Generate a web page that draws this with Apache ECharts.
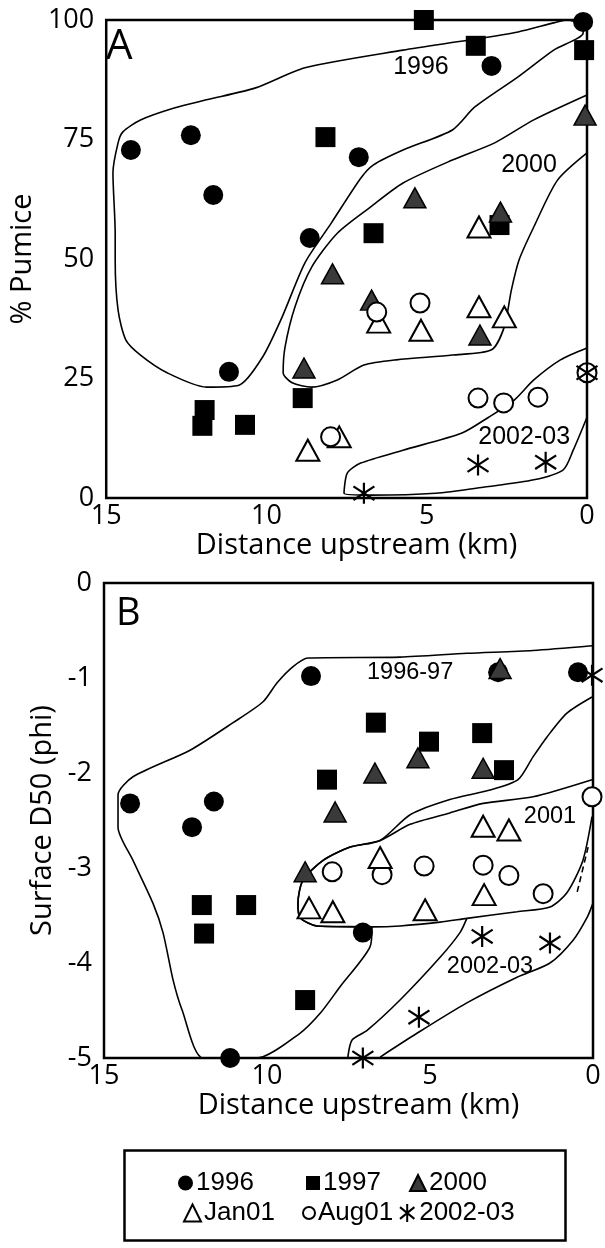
<!DOCTYPE html>
<html><head><meta charset="utf-8">
<script src="https://cdn.jsdelivr.net/npm/echarts@6/dist/echarts.min.js"></script>
<style>html,body{margin:0;padding:0;background:#fff}#c{width:605px;height:1248px}</style>
</head><body><div id="c"></div>
<script>
// ---------- tick values ----------
const xTicksKm = [0, 5, 10, 15];
const yTicksA = [0, 25, 50, 75, 100];
const yTicksB = [-5, -4, -3, -2, -1, 0];

// ---------- Panel A: % pumice vs distance upstream (km) ----------
const a1996 = [[14.23,72.8],[12.36,75.9],[11.66,63.4],[7.12,71.3],[8.65,54.4],[11.17,26.4],[2.98,90.4],[0.12,99.6]];
const a1997 = [[5.09,100],[3.47,94.6],[0.09,93.7],[8.16,75.5],[6.66,55.4],[2.73,57.1],[11.93,18.4],[12.0,15.1],[10.67,15.3],[8.87,20.9]];
const a2000 = [[5.37,62.8],[2.70,59.8],[0.06,80.1],[7.94,46.9],[6.72,41.4],[8.83,27.2],[3.34,34.1]];
const aJan01 = [[6.50,36.8],[5.18,35.1],[8.71,10.0],[7.73,12.8],[3.37,40.0],[2.58,37.9],[3.37,56.7]];
const aAug01 = [[6.56,38.9],[5.21,40.8],[8.0,12.8],[3.40,20.9],[2.6,19.9],[1.53,21.1],[0,26.2]];
const a2002 = [[6.96,1.0],[3.40,6.9],[1.29,7.5],[0,26.2]];

// envelopes (outline vertices, km / %)
const envA1996 = [[0.12,99],[0.61,100],[1.04,99.4],[2.15,97.5],[3.68,95.8],[5.74,93.7],[8.80,90.0],[10.34,85.8],[11.87,83.3],[12.88,81.6],[13.93,79.1],[14.48,76.6],[14.63,74.3],[14.79,68.0],[14.72,55.4],[14.72,49.8],[14.63,39.3],[14.39,33.1],[13.93,29.9],[13.10,26.2],[11.87,23.2],[10.86,23.6],[10.12,29.5],[9.51,37.9],[8.80,49.2],[7.98,57.5],[7.06,66.9],[6.66,69.7],[5.74,72.8],[4.20,77.0],[3.50,81.8],[2.15,88.1],[1.04,93.7],[0.12,97.3]];
const envA2000 = [[0,84.3],[1.66,79.1],[2.88,74.3],[4.20,70.7],[5.74,65.9],[6.75,60.9],[7.79,55.4],[8.59,48.3],[9.11,40.0],[9.42,31.6],[9.48,26.2],[9.20,24.1],[8.59,23.2],[7.79,24.7],[6.96,27.8],[5.95,28.9],[4.20,29.9],[2.98,31.0],[2.58,35.8],[2.36,43.5],[2.12,49.8],[1.66,56.7],[0.92,66.5],[0,72.2]];
const envA2002 = [[0,31.4],[0.83,28.9],[1.66,24.7],[2.27,20.5],[3.07,16.9],[3.90,13.6],[5.74,10.0],[7.06,7.3],[7.48,5.2],[7.58,1.0],[6.75,0.6],[4.72,1.0],[3.19,2.3],[1.66,3.8],[0.74,5.9],[0.43,10.0],[0,16.9]];
const labelsA = [['1996',5.18,90.2],['2000',1.81,69.7],['2002-03',1.96,12.8]];

// ---------- Panel B: surface D50 (phi) vs distance upstream (km) ----------
const b1996 = [[14.2,-2.32],[11.63,-2.30],[12.3,-2.57],[11.13,-5.0],[8.65,-0.98],[7.06,-3.68],[2.91,-0.94],[0.46,-0.94]];
const b1997 = [[12.0,-3.39],[10.64,-3.39],[11.93,-3.69],[8.83,-4.39],[6.66,-1.47],[5.03,-1.67],[8.16,-2.07],[3.40,-1.58],[2.73,-1.97]];
const b2000 = [[6.69,-2.0],[5.37,-1.84],[7.91,-2.41],[8.83,-3.04],[3.37,-1.95],[2.85,-0.9]];
const bJan01 = [[8.71,-3.42],[7.98,-3.46],[6.53,-2.89],[5.15,-3.44],[3.37,-2.56],[2.58,-2.6],[3.34,-3.28]];
const bAug01 = [[8.0,-3.04],[6.47,-3.07],[5.18,-2.98],[3.37,-2.97],[2.58,-3.08],[1.53,-3.27],[0.03,-2.25]];
const b2002 = [[7.06,-5.0],[5.34,-4.57],[3.40,-3.72],[1.32,-3.79],[0.03,-0.97]];

const envB1996 = [[0.03,-0.66],[1.84,-0.71],[3.87,-0.74],[5.92,-0.78],[8.74,-0.79],[9.20,-0.88],[9.69,-1.05],[10.12,-1.25],[11.04,-1.47],[12.36,-1.76],[14.11,-2.04],[14.57,-2.23],[14.57,-2.57],[14.11,-2.92],[13.50,-3.37],[13.19,-3.68],[12.88,-4.18],[12.61,-4.49],[11.96,-5.0],[10.31,-5.0],[8.99,-4.74],[8.37,-4.53],[7.76,-4.25],[6.84,-3.83],[6.78,-3.62],[8.47,-3.61],[8.99,-3.52],[9.05,-3.37],[8.90,-3.13],[8.28,-2.92],[7.45,-2.78],[6.53,-2.71],[5.61,-2.44],[4.39,-2.28],[3.16,-2.18],[2.30,-2.07],[1.84,-1.83],[1.41,-1.62],[0.80,-1.37],[0.03,-1.2]];
const envB2001 = [[0.03,-2.07],[1.84,-2.25],[3.37,-2.32],[4.39,-2.42],[5.61,-2.54],[6.53,-2.71],[7.45,-2.78],[8.28,-2.92],[8.90,-3.13],[9.05,-3.37],[8.99,-3.52],[8.47,-3.61],[6.78,-3.62],[5.92,-3.61],[4.69,-3.57],[3.87,-3.53],[2.33,-3.46],[1.32,-3.41],[0.80,-3.26],[0.31,-2.92],[0.03,-2.46]];
const envB2002 = [[3.87,-3.53],[4.08,-3.68],[4.69,-3.94],[5.92,-4.39],[6.93,-4.71],[7.39,-4.81],[7.52,-4.99]];
const envB2002low = [[6.53,-4.99],[5.40,-4.74],[3.87,-4.42],[2.33,-4.15],[1.32,-4.0],[0.61,-3.76],[0.18,-3.52],[0,-3.37]];
const envB2002dash = [[0.15,-2.78],[0.49,-3.26]];
const labelsB = [['1996-97',5.61,-0.94],['2001',1.32,-2.46],['2002-03',3.16,-4.04]];

// ---------- styling ----------
const BLACK = '#000';
const STAR = 'path://M10 0 L10 20 M2 3.5 L18 16.5 M2 16.5 L18 3.5';
const groups = [
  {name:'1996', A:a1996, B:b1996, symbol:'circle', size:20, color:BLACK, border:BLACK, bw:0, leg:15},
  {name:'1997', A:a1997, B:b1997, symbol:'rect', size:20, color:BLACK, border:BLACK, bw:0, leg:14},
  {name:'2000', A:a2000, B:b2000, symbol:'triangle', size:[22,20], color:'#3a3a3a', border:BLACK, bw:1.5, leg:16},
  {name:'Jan01', A:aJan01, B:bJan01, symbol:'triangle', size:[23,21], color:'#fff', border:BLACK, bw:2, leg:17},
  {name:'Aug01', A:aAug01, B:bAug01, symbol:'circle', size:19, color:'#fff', border:BLACK, bw:2, leg:12},
  {name:'2002-03', A:a2002, B:b2002, symbol:STAR, size:21, color:'rgba(0,0,0,0)', border:BLACK, bw:2.2, leg:18}
];

const series = [];
function envLine(data, gi, dashed) {
  return {type:'line', xAxisIndex:gi, yAxisIndex:gi, data:data, symbol:'none', smooth:0.25, clip:false,
    silent:true, lineStyle:{color:BLACK, width:1.6, type: dashed ? [6,4] : 'solid'}, z:1};
}
series.push(envLine(envA1996.concat([envA1996[0]]), 0));
series.push(envLine(envA2000, 0));
series.push(envLine(envA2002, 0));
series.push(envLine(envB1996, 1));
series.push(envLine(envB2001, 1));
series.push(envLine(envB2002, 1));
series.push(envLine(envB2002low, 1));
series.push(envLine(envB2002dash, 1, true));

groups.forEach((g, i) => {
  ['A','B'].forEach((p, gi) => {
    let z = 3 + i;
    if (g.name === 'Aug01' && p === 'B') z = 2;
    series.push({type:'scatter', name:g.name, xAxisIndex:gi, yAxisIndex:gi, data:g[p], clip:false,
      symbol:g.symbol, symbolSize:g.size, z:z,
      itemStyle:{color:g.color, borderColor:g.border, borderWidth:g.bw, opacity:1}});
  });
});

function textSeries(labels, gi, fs) {
  return {type:'scatter', xAxisIndex:gi, yAxisIndex:gi, symbolSize:1, silent:true, clip:false, z:10,
    itemStyle:{color:'rgba(0,0,0,0)'},
    data: labels.map(l => ({name:l[0], value:[l[1], l[2]]})),
    label:{show:true, position:'inside', formatter:'{b}', color:BLACK, textBorderWidth:0, opacity:1,
      fontSize:fs, fontFamily:'Liberation Sans'}};
}
series.push(textSeries(labelsA, 0, 25));
series.push(textSeries(labelsB, 1, 23.5));

const tickFont = {color:BLACK, fontSize:27, fontFamily:'Open Sans'};
const nameFont = {color:BLACK, fontSize:29, fontFamily:'Open Sans'};

function xAxis(gi) {
  return {type:'value', gridIndex:gi, inverse:true, min:xTicksKm[0], max:xTicksKm[xTicksKm.length-1], interval:5,
    name:'Distance upstream (km)', nameLocation:'middle', nameGap:30,
    nameTextStyle:Object.assign({padding:[0,0,0,20]}, nameFont),
    axisLine:{show:false}, axisTick:{show:false}, splitLine:{show:false},
    axisLabel:Object.assign({margin:5}, tickFont)};
}

const legendPos = [
  ['1996', 178, 1170], ['1997', 306, 1170], ['2000', 409, 1170],
  ['Jan01', 183, 1200], ['Aug01', 302, 1200], ['2002-03', 399, 1200]
];
const legends = legendPos.map(lp => {
  const g = groups.find(x => x.name === lp[0]);
  return {data:[lp[0]], left:lp[1], top:lp[2], padding:0, itemGap:0, selectedMode:false,
    itemWidth:g.leg, itemHeight:g.leg,
    textStyle:{color:BLACK, fontSize:26, fontFamily:'Liberation Sans', padding:[0,0,0,-2]}};
});

const option = {
  animation:false,
  backgroundColor:'#fff',
  title:[
    {text:'A', left:106, top:26, padding:0, textStyle:{fontSize:42, fontWeight:'normal', fontFamily:'Open Sans', color:BLACK}},
    {text:'B', left:116, top:595, padding:0, textStyle:{fontSize:38, fontWeight:'normal', fontFamily:'Open Sans', color:BLACK}}
  ],
  grid:[
    {left:98, top:20, width:489, height:478, show:true, borderColor:BLACK, borderWidth:2.5, backgroundColor:'rgba(0,0,0,0)'},
    {left:104, top:583, width:489, height:475, show:true, borderColor:BLACK, borderWidth:2.5, backgroundColor:'rgba(0,0,0,0)'}
  ],
  xAxis:[xAxis(0), xAxis(1)],
  yAxis:[
    {type:'value', gridIndex:0, min:yTicksA[0], max:yTicksA[yTicksA.length-1], interval:25,
      name:'% Pumice', nameLocation:'middle', nameGap:51, nameTextStyle:nameFont,
      axisLine:{show:false}, axisTick:{show:false}, splitLine:{show:false},
      axisLabel:Object.assign({margin:12}, tickFont)},
    {type:'value', gridIndex:1, min:yTicksB[0], max:yTicksB[yTicksB.length-1], interval:1,
      name:'Surface D50 (phi)', nameLocation:'middle', nameGap:43, nameTextStyle:nameFont,
      axisLine:{show:false}, axisTick:{show:false}, splitLine:{show:false},
      axisLabel:Object.assign({margin:12}, tickFont)}
  ],
  legend:legends,
  graphic:[{type:'rect', left:122, top:1148, shape:{width:441, height:90},
    style:{fill:'none', stroke:BLACK, lineWidth:2.5}, z:0}],
  series:series
};
const chart = echarts.init(document.getElementById('c'), null, {renderer:'canvas'});
chart.setOption(option);
</script>
</body></html>
